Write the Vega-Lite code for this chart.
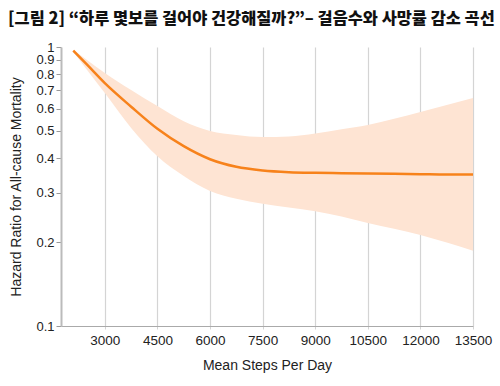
{
  "$schema": "https://vega.github.io/schema/vega-lite/v6.json",
  "width": 412,
  "height": 279,
  "autosize": {"type": "none"},
  "padding": {"left": 61, "top": 47, "right": 27, "bottom": 60},
  "background": "white",
  "title": {
    "text": "[그림 2] “하루 몇보를 걸어야 건강해질까?”– 걸음수와 사망률 감소 곡선",
    "anchor": "start",
    "frame": "group",
    "dx": -53,
    "offset": 14,
    "font": "Noto Sans CJK KR",
    "fontSize": 16.4,
    "fontWeight": 900,
    "color": "#111111"
  },
  "config": {
    "view": {"stroke": null},
    "axis": {
      "labelFont": "Liberation Sans",
      "titleFont": "Liberation Sans",
      "labelFontSize": 13.5,
      "titleFontSize": 14,
      "labelColor": "#222222",
      "titleColor": "#222222",
      "titleFontWeight": "normal",
      "labelOverlap": false,
      "labelBound": false,
      "labelFlush": false
    }
  },
  "data": {
    "values": [
      {"steps": 2100, "hr": 0.97, "lower": 0.962, "upper": 0.978},
      {"steps": 2500, "hr": 0.862, "lower": 0.826, "upper": 0.897},
      {"steps": 3000, "hr": 0.742, "lower": 0.684, "upper": 0.807},
      {"steps": 3750, "hr": 0.611, "lower": 0.513, "upper": 0.701},
      {"steps": 4500, "hr": 0.509, "lower": 0.406, "upper": 0.614},
      {"steps": 5250, "hr": 0.441, "lower": 0.345, "upper": 0.542},
      {"steps": 6000, "hr": 0.396, "lower": 0.305, "upper": 0.5},
      {"steps": 6750, "hr": 0.372, "lower": 0.286, "upper": 0.484},
      {"steps": 7500, "hr": 0.361, "lower": 0.274, "upper": 0.476},
      {"steps": 8250, "hr": 0.356, "lower": 0.266, "upper": 0.478},
      {"steps": 9000, "hr": 0.354, "lower": 0.258, "upper": 0.49},
      {"steps": 9750, "hr": 0.353, "lower": 0.247, "upper": 0.507},
      {"steps": 10500, "hr": 0.352, "lower": 0.234, "upper": 0.525},
      {"steps": 11250, "hr": 0.351, "lower": 0.223, "upper": 0.553},
      {"steps": 12000, "hr": 0.35, "lower": 0.212, "upper": 0.585},
      {"steps": 12750, "hr": 0.349, "lower": 0.199, "upper": 0.619},
      {"steps": 13500, "hr": 0.349, "lower": 0.186, "upper": 0.656}
    ]
  },
  "encoding": {
    "x": {
      "field": "steps",
      "type": "quantitative",
      "scale": {"domain": [1750, 13500], "nice": false, "zero": false},
      "axis": {
        "title": "Mean Steps Per Day",
        "values": [3000, 4500, 6000, 7500, 9000, 10500, 12000, 13500],
        "format": "d",
        "grid": true,
        "gridColor": "#d4d4d4",
        "gridWidth": 1.2,
        "domainColor": "#aaaaaa",
        "tickColor": "#d4d4d4",
        "tickSize": 3,
        "labelPadding": 4,
        "titlePadding": 12
      }
    }
  },
  "layer": [
    {
      "mark": {"type": "area", "color": "#fee4d3", "opacity": 1, "interpolate": "monotone"},
      "encoding": {
        "y": {
          "field": "lower",
          "type": "quantitative",
          "scale": {"type": "log", "domain": [0.1, 1], "nice": false},
          "axis": {
            "title": "Hazard Ratio for All-cause Mortality",
            "values": [0.1, 0.2, 0.3, 0.4, 0.5, 0.6, 0.7, 0.8, 0.9, 1],
            "format": "~g",
            "labelFontSize": 13,
            "grid": false,
            "domainColor": "#bbbbbb",
            "domainWidth": 2,
            "tickColor": "#999999",
            "tickSize": 5,
            "labelPadding": 2,
            "titlePadding": 12
          }
        },
        "y2": {"field": "upper"}
      }
    },
    {
      "mark": {"type": "line", "color": "#f7821b", "strokeWidth": 2.5, "interpolate": "monotone"},
      "encoding": {
        "y": {"field": "hr", "type": "quantitative"}
      }
    }
  ]
}
